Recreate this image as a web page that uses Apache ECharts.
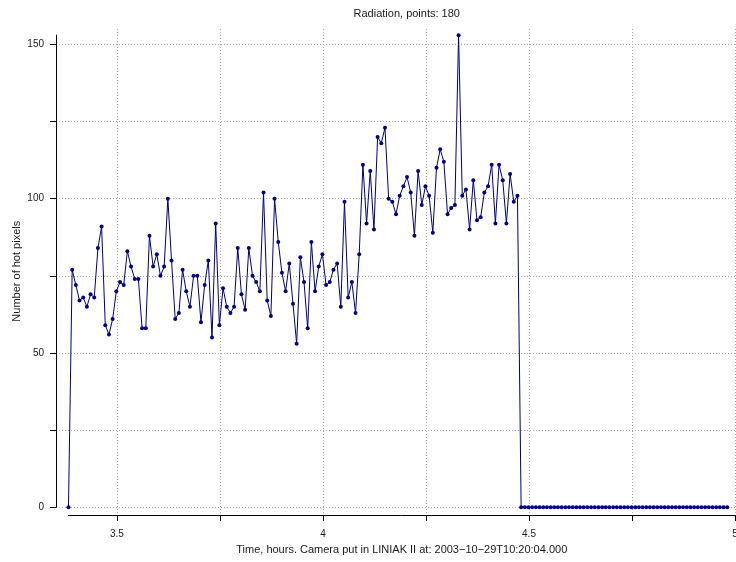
<!DOCTYPE html>
<html>
<head>
<meta charset="utf-8">
<script src="https://cdn.jsdelivr.net/npm/echarts@6/dist/echarts.min.js"></script>
<style>
html, body { margin: 0; padding: 0; background: #fff; }
#chart { width: 736px; height: 562px; }
</style>
</head>
<body>
<div id="chart"></div>
<script>
// hot pixel count per frame, 180 frames
var hotPixels = [
  0,
  77, 72, 67, 68, 65, 69, 68, 84, 91, 59, 56, 61, 70, 73, 72, 83, 78, 74, 74,
  58, 58, 88, 78, 82, 75, 78, 100, 80, 61, 63, 77, 70, 65, 75, 75, 60, 72, 80, 55, 92, 59,
  71, 65, 63, 65, 84, 69, 64, 84, 75, 73, 70, 102, 67, 62, 100, 86, 76, 70, 79, 66, 53,
  81, 73, 58, 86, 70, 78, 82, 72, 73, 77, 79, 65, 99, 68, 73, 63, 82, 111, 92, 109, 90, 120,
  118, 123, 100, 99, 95, 101, 104, 107, 102, 88, 109, 98, 104, 101, 89, 110, 116, 112, 95, 97, 98, 153,
  101, 103, 90, 106, 93, 94, 102, 104, 111, 92, 111, 106, 92, 108, 99, 101,
  0, 0, 0, 0, 0, 0, 0, 0, 0, 0, 0, 0, 0, 0, 0, 0, 0, 0, 0,
  0, 0, 0, 0, 0, 0, 0, 0, 0, 0, 0, 0, 0, 0, 0, 0, 0, 0, 0,
  0, 0, 0, 0, 0, 0, 0, 0, 0, 0, 0, 0, 0, 0, 0, 0, 0, 0, 0
];
// frame times in hours (fixed sampling step)
var startHour = 3.3823;
var stepHour = 0.008932;

var xLabelValues = [3.5, 4, 4.5, 5];
var yLabelValues = [0, 50, 100, 150];

var titleText = 'Radiation, points: ' + hotPixels.length;
var xName = 'Time, hours. Camera put in LINIAK II at: 2003\u221210\u221229T10:20:04.000';
var yName = 'Number of hot pixels';

// plot box
var plotLeft = 56, plotRight = 735, plotTop = 29, plotBottom = 515;
var xMin = 3.352, xMax = 5, yMin = -2.5, yMax = 155;

function xPx(v) { return plotLeft + (v - xMin) / (xMax - xMin) * (plotRight - plotLeft); }
function yPx(v) { return plotBottom - (v - yMin) / (yMax - yMin) * (plotBottom - plotTop); }

var points = hotPixels.map(function (v, i) { return [startHour + i * stepHour, v]; });
var yTop = Math.max.apply(null, hotPixels);

var font = 'Liberation Sans, Arial, Helvetica, sans-serif';
var textColor = '#1a1a1a';
var gridLine = { show: true, lineStyle: { color: '#a8a8a8', width: 1, type: [1, 2] } };
var hidden = { show: false };

var chart = echarts.init(document.getElementById('chart'), null, { renderer: 'canvas' });

chart.setOption({
  animation: false,
  backgroundColor: '#fff',
  textStyle: { fontFamily: font },
  title: {
    text: titleText,
    left: (xPx(startHour) + plotRight) / 2,
    textAlign: 'center',
    top: 3,
    textStyle: { fontSize: 11, fontWeight: 'normal', color: textColor, fontFamily: font }
  },
  grid: [
    // data
    { left: plotLeft, top: plotTop, width: plotRight - plotLeft, height: plotBottom - plotTop, outerBoundsMode: 'none' },
    // horizontal grid lines + y ticks
    { left: plotLeft, top: yPx(150), width: plotRight - plotLeft, height: yPx(0) - yPx(150), outerBoundsMode: 'none' },
    // vertical grid lines + x ticks
    { left: xPx(3.5), top: plotTop, width: plotRight - xPx(3.5), height: plotBottom - plotTop, outerBoundsMode: 'none' },
    // x axis line (data range)
    { left: xPx(startHour), top: plotTop, width: plotRight - xPx(startHour), height: plotBottom - plotTop, outerBoundsMode: 'none' },
    // y axis line (data range)
    { left: plotLeft, top: yPx(yTop), width: plotRight - plotLeft, height: yPx(0) - yPx(yTop), outerBoundsMode: 'none' }
  ],
  xAxis: [
    { gridIndex: 0, type: 'value', min: xMin, max: xMax, show: false },
    { gridIndex: 1, type: 'value', min: xMin, max: xMax, show: false },
    {
      gridIndex: 2, type: 'value', min: 3.5, max: 5, interval: 0.25, offset: 5,
      axisLine: hidden,
      axisTick: { show: true, inside: false, length: 6, lineStyle: { color: '#000', width: 1 } },
      axisLabel: {
        margin: 9, fontSize: 10, color: textColor, fontFamily: font,
        formatter: function (v) { return xLabelValues.indexOf(+v.toFixed(2)) >= 0 ? String(+v.toFixed(2)) : ''; }
      },
      splitLine: gridLine
    },
    {
      gridIndex: 3, type: 'value', min: startHour, max: 5, offset: 5,
      axisLine: { show: true, lineStyle: { color: '#000', width: 1 } },
      axisTick: hidden, axisLabel: hidden, splitLine: hidden,
      name: xName, nameLocation: 'middle', nameGap: 24,
      nameTextStyle: { fontSize: 11, color: textColor, fontFamily: font }
    },
    { gridIndex: 4, type: 'value', min: xMin, max: xMax, show: false }
  ],
  yAxis: [
    { gridIndex: 0, type: 'value', min: yMin, max: yMax, show: false },
    {
      gridIndex: 1, type: 'value', min: 0, max: 150, interval: 25,
      axisLine: hidden,
      axisTick: { show: true, inside: false, length: 6, lineStyle: { color: '#000', width: 1 } },
      axisLabel: {
        margin: 12, fontSize: 10, color: textColor, fontFamily: font,
        formatter: function (v) { return yLabelValues.indexOf(v) >= 0 ? String(v) : ''; }
      },
      splitLine: gridLine
    },
    { gridIndex: 2, type: 'value', min: 0, max: 1, show: false },
    { gridIndex: 3, type: 'value', min: 0, max: 1, show: false },
    {
      gridIndex: 4, type: 'value', min: 0, max: yTop,
      axisLine: { show: true, lineStyle: { color: '#000', width: 1 } },
      axisTick: hidden, axisLabel: hidden, splitLine: hidden,
      name: yName, nameLocation: 'middle', nameRotate: 90, nameGap: 34,
      nameTextStyle: { fontSize: 11, color: textColor, fontFamily: font }
    }
  ],
  series: [{
    type: 'line',
    xAxisIndex: 0,
    yAxisIndex: 0,
    data: points,
    symbol: 'circle',
    symbolSize: 4,
    showSymbol: true,
    showAllSymbol: true,
    clip: false,
    color: '#000080',
    lineStyle: { color: '#000080', width: 1 },
    itemStyle: { color: '#000080' },
    emphasis: { disabled: true }
  }]
});
</script>
</body>
</html>
